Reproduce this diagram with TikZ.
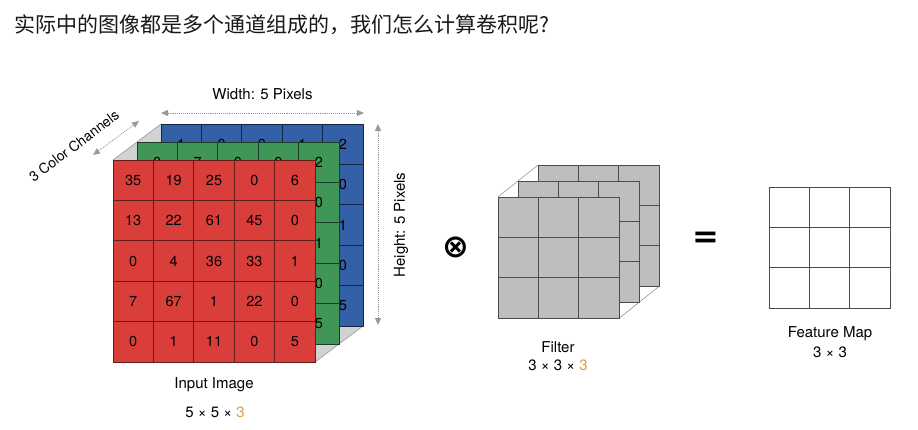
\documentclass[tikz,border=0pt]{standalone}
\usepackage{fontspec}
\setmainfont{TeX Gyre Heros}
\newfontfamily\cjk{Noto Sans CJK SC}
\newfontfamily\opfont{DejaVu Sans}
\usetikzlibrary{arrows.meta,backgrounds}
\definecolor{chred}{RGB}{218,62,58}
\definecolor{chgreen}{RGB}{64,150,86}
\definecolor{chblue}{RGB}{52,96,168}
\definecolor{filtgray}{RGB}{190,190,190}
\definecolor{sidegray}{RGB}{210,210,210}
\definecolor{hiligt}{RGB}{222,158,60}
\tikzset{
  x=1pt, y=-1pt,
  font=\fontsize{14.5}{16}\selectfont,
  cell/.style  ={draw, anchor=north west, minimum size=40.4pt, inner sep=0pt, outer sep=0pt, line width=0.8pt, text=black},
  rcell/.style ={cell, fill=chred, draw=chred!45!black},
  gcell/.style ={cell, fill=chgreen, draw=chgreen!40!black},
  bcell/.style ={cell, fill=chblue, draw=chblue!40!black},
  fcell/.style ={cell, fill=filtgray, draw=black!70},
  mcell/.style ={cell, fill=white, draw=black!70},
  side/.style  ={draw=gray!80, line width=0.6pt},
  dim/.style   ={{Triangle[length=7pt,width=6pt]}-{Triangle[length=7pt,width=6pt]}, densely dotted, gray!80, line width=0.9pt},
  lbl/.style   ={font=\fontsize{15}{17}\selectfont, align=center},
  op/.style    ={font=\opfont\bfseries\fontsize{32}{32}\selectfont, inner sep=0pt},
}
\newcommand{\hl}[1]{\textcolor{hiligt}{#1}}

\begin{document}
\begin{tikzpicture}
  \begin{scope}[on background layer]
    \fill[white] (0,0) rectangle (918,430);
  \end{scope}
  \useasboundingbox (0,0) rectangle (918,430);

  \node[anchor=west, font=\cjk\fontsize{21}{24}\selectfont, text=black!90] (title) at (11,25)
    {实际中的图像都是多个通道组成的，我们怎么计算卷积呢?};

  % input image: three channels, back to front
  \foreach \v [count=\k from 0] in {1,0,0,1,2, {},{},{},{},0, {},{},{},{},1, {},{},{},{},0, {},{},{},{},5}{
    \pgfmathtruncatemacro\r{int(\k/5)}\pgfmathtruncatemacro\c{mod(\k,5)}
    \node[bcell] (B\r\c) at ({161+40.4*\c},{124+40.4*\r}) {\v};
  }
  \foreach \v [count=\k from 0] in {0,7,0,0,2, {},{},{},{},0, {},{},{},{},1, {},{},{},{},0, {},{},{},{},5}{
    \pgfmathtruncatemacro\r{int(\k/5)}\pgfmathtruncatemacro\c{mod(\k,5)}
    \node[gcell] (G\r\c) at ({137+40.4*\c},{142+40.4*\r}) {\v};
  }
  \foreach \v [count=\k from 0] in {35,19,25,0,6, 13,22,61,45,0, 0,4,36,33,1, 7,67,1,22,0, 0,1,11,0,5}{
    \pgfmathtruncatemacro\r{int(\k/5)}\pgfmathtruncatemacro\c{mod(\k,5)}
    \node[rcell] (R\r\c) at ({113+40.4*\c},{160+40.4*\r}) {\v};
  }
  \begin{scope}[on background layer]
    \fill[sidegray] (R00.north west) -- (B00.north west) -- (B04.north east) -- (R04.north east) -- cycle;
    \fill[sidegray] (R04.north east) -- (B04.north east) -- (B44.south east) -- (R44.south east) -- cycle;
    \draw[side] (R00.north west) -- (B00.north west);
    \draw[side] (R04.north east) -- (B04.north east);
    \draw[side] (R44.south east) -- (B44.south east);
  \end{scope}

  % dimension arrows
  \coordinate (wA) at (161,113);
  \coordinate (wB) at (364,113);
  \draw[dim] (wA) -- node[lbl, above=9pt, text=black]{Width: 5 Pixels} (wB);
  \coordinate (hA) at (378,124);
  \coordinate (hB) at (378,325);
  \draw[dim] (hA) -- (hB);
  \node[lbl, rotate=90] (hlbl) at (401,225) {Height: 5 Pixels};
  \coordinate (cA) at (93,155);
  \coordinate (cB) at (139,121);
  \draw[dim] (cA) -- (cB);
  \node[lbl, font=\fontsize{14}{16}\selectfont, rotate=37] (clbl) at (74,146) {3 Color Channels};

  \node[lbl] (inlbl) at (214,385) {Input Image};
  \node[lbl] (insz) at (215,412) {5 × 5 × \hl{3}};

  \node[op] (conv) at (456,247) {⊗};

  % filter: 3x3x3
  \foreach \ox/\oy/\n in {538/165/K, 518/181/J, 498/197/F}{
    \foreach \r in {0,1,2}{
      \foreach \c in {0,1,2}{
        \node[fcell] (\n\r\c) at ({\ox+40.4*\c},{\oy+40.4*\r}) {};
      }
    }
  }
  \begin{scope}[on background layer]
    \draw[side] (F00.north west) -- (K00.north west);
    \draw[side] (F02.north east) -- (K02.north east);
    \draw[side] (F22.south east) -- (K22.south east);
  \end{scope}
  \node[lbl] (flbl) at (558,347) {Filter};
  \node[lbl] (fsz) at (558,365) {3 × 3 × \hl{3}};

  \node[op] (eq) at (706,240) {=};

  % feature map
  \foreach \r in {0,1,2}{
    \foreach \c in {0,1,2}{
      \node[mcell] (M\r\c) at ({769+40.4*\c},{187+40.4*\r}) {};
    }
  }
  \node[lbl] (mlbl) at (830,334) {Feature Map};
  \node[lbl] (msz) at (830,352) {3 × 3};
\end{tikzpicture}
\end{document}
